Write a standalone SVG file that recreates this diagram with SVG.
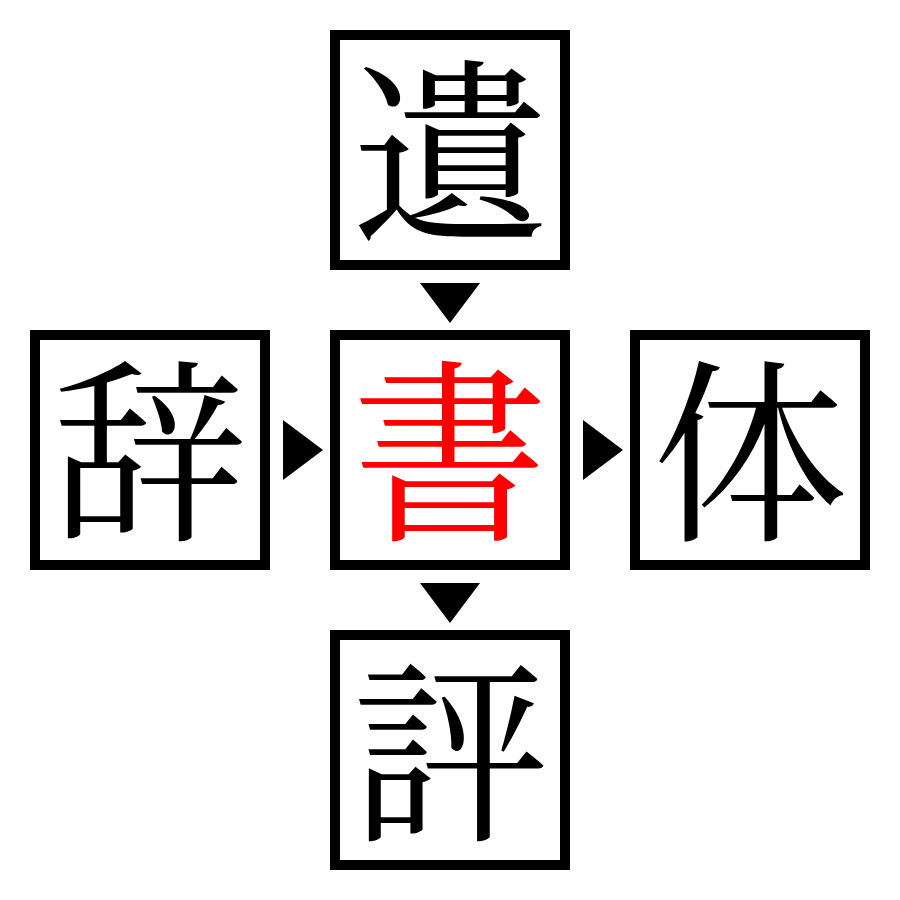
<svg xmlns="http://www.w3.org/2000/svg" width="900" height="900" viewBox="0 0 900 900">
<style>
.box{fill:#fff;stroke:#000;stroke-width:10}
.ch{font-family:"Noto Serif CJK JP","Noto Sans CJK JP",serif;font-size:196px;text-anchor:middle;dominant-baseline:central;fill:#000}
.red{fill:#f00}
.arr{fill:#000}
</style>
<rect width="900" height="900" fill="#fff"/>
<g id="top"><rect class="box" x="335" y="35" width="230" height="230"/><text class="ch" x="450" y="140">遺</text></g>
<g id="left"><rect class="box" x="35" y="335" width="230" height="230"/><text class="ch" x="150" y="440">辞</text></g>
<g id="center"><rect class="box" x="335" y="335" width="230" height="230"/><text class="ch red" x="450" y="440">書</text></g>
<g id="right"><rect class="box" x="635" y="335" width="230" height="230"/><text class="ch" x="750" y="440">体</text></g>
<g id="bottom"><rect class="box" x="335" y="635" width="230" height="230"/><text class="ch" x="450" y="740">評</text></g>
<g id="connectors">
<polygon class="arr" points="420,283 480,283 450,323"/>
<polygon class="arr" points="283,420 323,450 283,480"/>
<polygon class="arr" points="583,420 623,450 583,480"/>
<polygon class="arr" points="420,583 480,583 450,623"/>
</g>
</svg>
